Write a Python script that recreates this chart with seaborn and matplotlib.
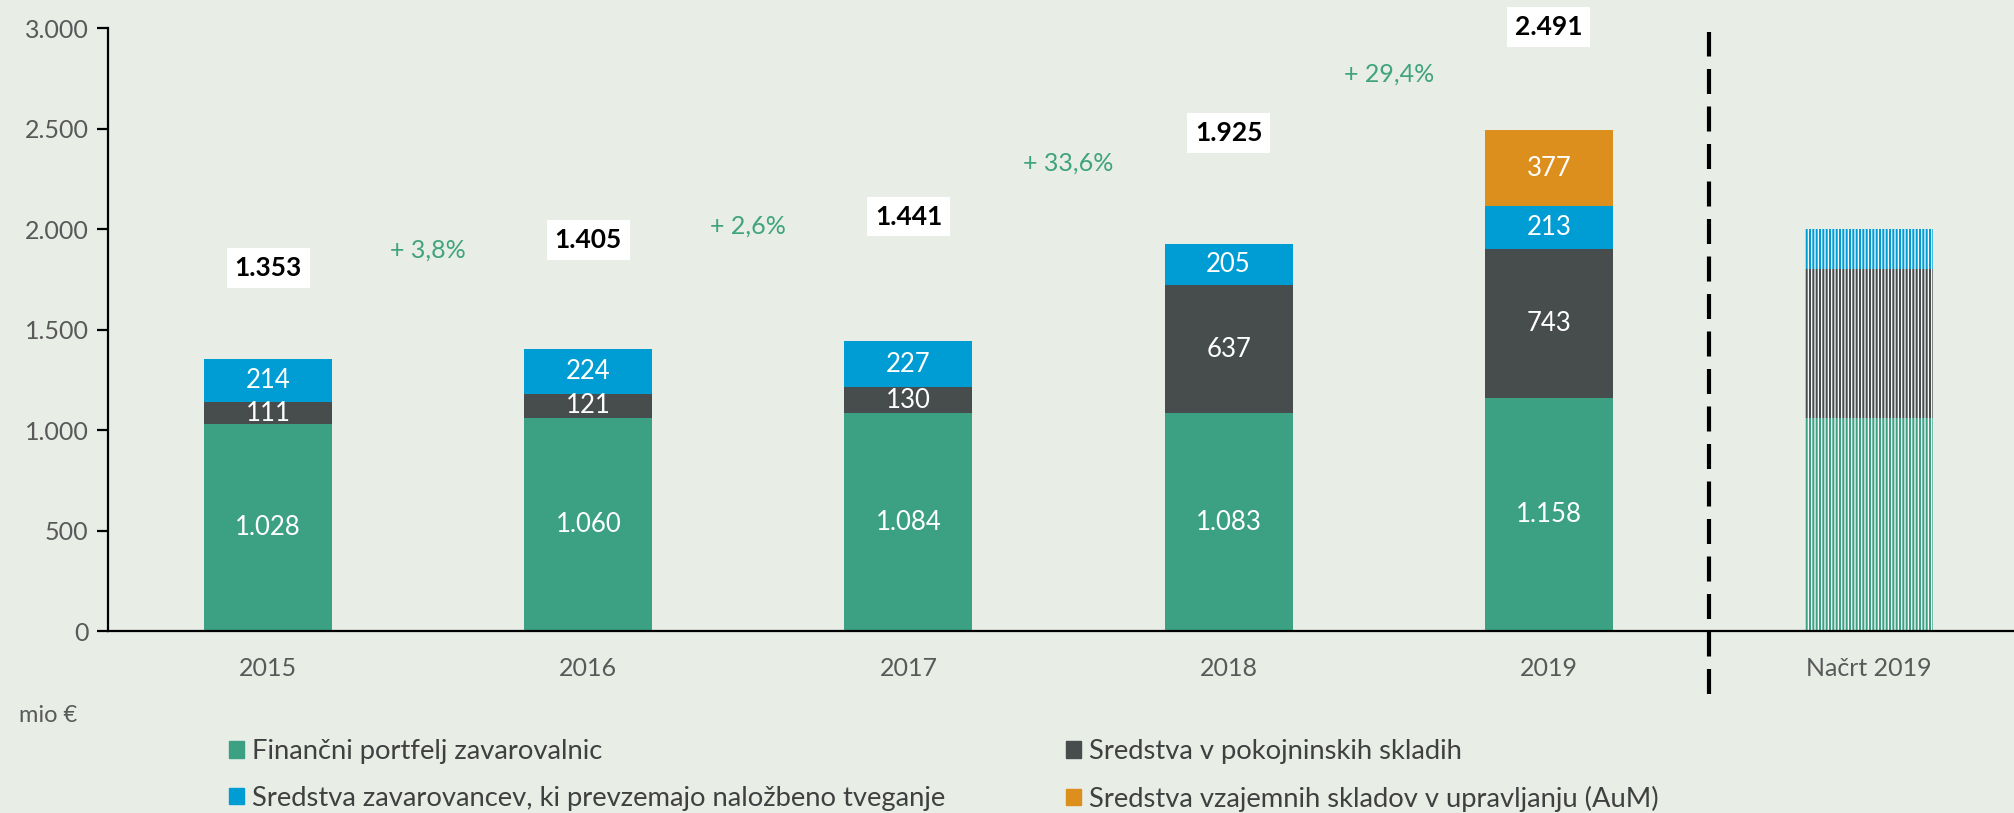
import numpy as np
import pandas as pd
import seaborn as sns
import matplotlib.pyplot as plt
from matplotlib.patches import Patch

# Data (mio €)
years = ["2015", "2016", "2017", "2018", "2019", "Načrt 2019"]
financni = [1028, 1060, 1084, 1083, 1158, 1062]
pokojninski = [111, 121, 130, 637, 743, 738]
zavarovanci = [214, 224, 227, 205, 213, 200]
vzajemni = [0, 0, 0, 0, 377, 0]
totals = [1353, 1405, 1441, 1925, 2491]
growth = ["+ 3,8%", "+ 2,6%", "+ 33,6%", "+ 29,4%"]
series = [
    "Finančni portfelj zavarovalnic",
    "Sredstva v pokojninskih skladih",
    "Sredstva zavarovancev, ki prevzemajo naložbeno tveganje",
    "Sredstva vzajemnih skladov v upravljanju (AuM)",
]

# Layout of the floating labels (y in data units)
total_label_y = [1806, 1947, 2062, 2477, 3005]
growth_label_y = [1896, 2017, 2330, 2770]

colors = ["#3CA182", "#474D4D", "#009DD4", "#DC8F1C"]
bg = "#E8EDE6"

sns.set_style("white")
plt.rcParams["font.family"] = ["Lato", "DejaVu Sans"]
plt.rcParams["hatch.linewidth"] = 0.9

df = pd.DataFrame({"year": years, "fin": financni, "pok": pokojninski,
                   "zav": zavarovanci, "vza": vzajemni})

fig = plt.figure(figsize=(20.14, 8.13), dpi=100, facecolor=bg)
ax = fig.add_axes([108 / 2014, 182 / 813, 1921 / 2014, 603 / 813])
ax.set_facecolor(bg)

bottom = np.zeros(len(years))
for col, color in zip(["fin", "pok", "zav", "vza"], colors):
    sns.barplot(data=df, x="year", y=col, order=years, color=color, saturation=1,
                width=0.4, bottom=bottom.copy(), errorbar=None, linewidth=0, ax=ax)
    bar = ax.containers[-1][-1]  # plan bar gets a dotted texture
    bar.set_hatch("|||||")
    bar.set_edgecolor("white")
    bar.set_linewidth(0)
    for i, v in enumerate(df[col][:5]):
        if v > 0:
            ax.text(i, bottom[i] + v / 2, f"{v:,}".replace(",", "."), ha="center",
                    va="center", color="white", fontsize=18.5)
    bottom += df[col].to_numpy()

for i, (t, y) in enumerate(zip(totals, total_label_y)):
    ax.text(i, y, f"{t:,}".replace(",", "."), ha="center", va="center", fontsize=19,
            fontweight="bold", color="black",
            bbox=dict(boxstyle="square,pad=0.3", fc="white", ec="none"))

for i, (g, y) in enumerate(zip(growth, growth_label_y)):
    ax.text(i + 0.5, y, g, ha="center", va="center", fontsize=18, color="#40A37F")

ax.axvline(4.5, ymin=-0.105, ymax=0.993, color="black", lw=3,
           linestyle=(0, (6, 3)), clip_on=False)

ax.set_xlim(-0.5, 5.5)
ax.set_ylim(0, 3000)
yt = list(range(0, 3001, 500))
ax.set_yticks(yt)
ax.set_yticklabels([f"{v:,}".replace(",", ".") for v in yt])
ax.set_xlabel("")
ax.set_ylabel("")
sns.despine(ax=ax, top=True, right=True)
for s in ["left", "bottom"]:
    ax.spines[s].set_color("black")
    ax.spines[s].set_linewidth(1.6)
ax.tick_params(axis="y", length=8, width=1.6, color="black", labelcolor="#595959",
               labelsize=18, pad=6, left=True)
ax.tick_params(axis="x", length=0, labelcolor="#595959", labelsize=18, pad=19)

fig.text(19 / 2014, 1 - 715 / 813, "mio €", fontsize=17, color="#595959", va="center")

handles = [Patch(color=c) for c in colors]
order = [0, 2, 1, 3]
fig.legend([handles[k] for k in order], [series[k] for k in order], ncol=2,
           loc="upper left", bbox_to_anchor=(229 / 2014, 1 - 739 / 813), frameon=False,
           fontsize=19.7, handlelength=0.55, handleheight=0.55, handletextpad=0.3,
           columnspacing=4.4, labelspacing=0.79, borderaxespad=0, borderpad=0,
           labelcolor="#404040")

fig.savefig("out.png", dpi=100, facecolor=bg)
